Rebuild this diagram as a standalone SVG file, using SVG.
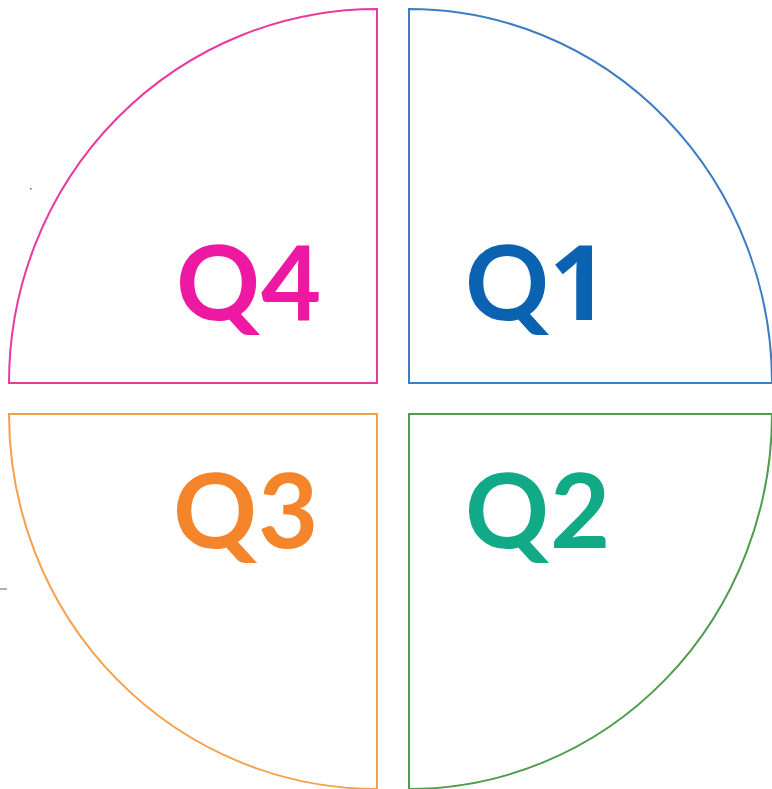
<svg xmlns="http://www.w3.org/2000/svg" width="772" height="789" viewBox="0 0 772 789">
<style>
.q{fill:none;stroke-width:2}
.t{font-family:Lato,"Liberation Sans",sans-serif;font-weight:bold;font-size:104px;letter-spacing:1px}
</style>
<rect width="772" height="789" fill="#fff"/>
<g id="q4">
<path class="q" stroke="#E8399E" d="M377,9 L377,383 L9,383 A368,374 0 0 1 377,9 Z"/>
<text class="t" x="176" y="320" fill="#EE19A3">Q4</text>
</g>
<g id="q1">
<path class="q" stroke="#3C7DC3" d="M409,9 L409,383 L772,383 A363,374 0 0 0 409,9 Z"/>
<text class="t" x="465" y="320" fill="#0B62B0">Q<tspan x="549" font-family="'Open Sans',sans-serif">1</tspan></text>
</g>
<g id="q3">
<path class="q" stroke="#F7A04C" d="M9,414 L377,414 L377,789 A368,375 0 0 1 9,414 Z"/>
<text class="t" x="173" y="548" fill="#F5852A">Q3</text>
</g>
<g id="q2">
<path class="q" stroke="#4E9C4C" d="M409,414 L772,414 A363,375 0 0 1 409,789 Z"/>
<text class="t" x="465" y="548" fill="#12A987">Q2</text>
</g>
<g id="marks">
<line x1="0" y1="589" x2="7" y2="589" stroke="#777" stroke-width="1.2"/>
<rect x="30" y="188" width="1.5" height="1.5" fill="#667"/>
</g>
</svg>
